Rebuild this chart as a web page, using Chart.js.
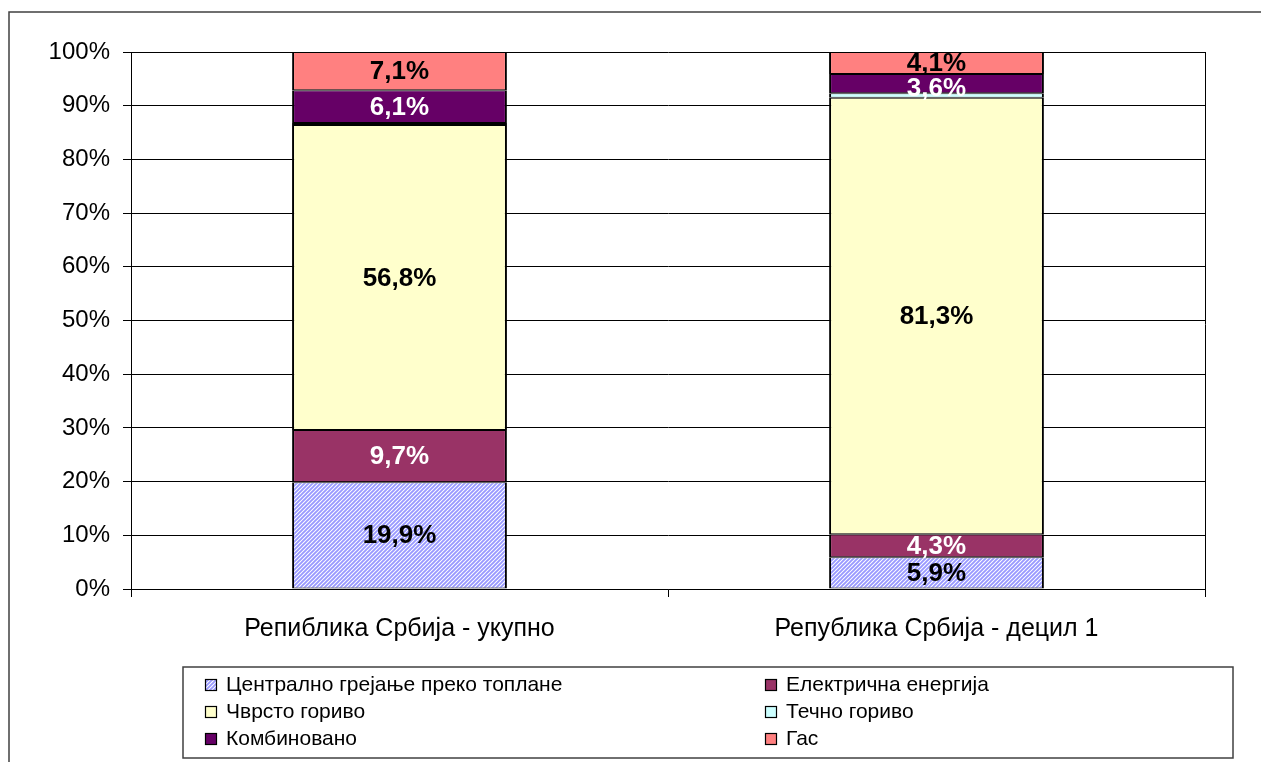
<!DOCTYPE html>
<html>
<head>
<meta charset="utf-8">
<script src="https://cdn.jsdelivr.net/npm/chart.js@4.4.1/dist/chart.umd.min.js"></script>
<style>
  html, body { margin: 0; padding: 0; background: #fff; }
  #wrap { width: 1261px; height: 762px; }
</style>
</head>
<body>
<div id="wrap"><canvas id="chart" width="1261" height="762"></canvas></div>
<script>
// categories on the x axis
const categories = ['Репиблика Србија - укупно', 'Република Србија - децил 1']

// series (percent of households by heating type)
const centralHeating = [19.9, 5.9]
const electricity = [9.7, 4.3]
const solidFuel = [56.8, 81.3]
const liquidFuel = [0.4, 0.8]
const combined = [6.1, 3.6]
const gas = [7.1, 4.1]

const seriesNames = [
  'Централно грејање преко топлане',
  'Електрична енергија',
  'Чврсто гориво',
  'Течно гориво',
  'Комбиновано',
  'Гас'
]

// y axis ticks
const yTicks = [0, 10, 20, 30, 40, 50, 60, 70, 80, 90, 100]

const FONT = 'Liberation Sans, Arial, sans-serif'

/**
 * Diagonal lavender/white hatch used for the central heating series.
 */
function makeHatch () {
  const c = document.createElement('canvas')
  c.width = 4
  c.height = 4
  const g = c.getContext('2d')
  g.fillStyle = '#ffffff'
  g.fillRect(0, 0, 4, 4)
  g.strokeStyle = '#9999ff'
  g.lineWidth = 1.9
  g.beginPath()
  g.moveTo(-1, 5); g.lineTo(5, -1)
  g.moveTo(-3, 3); g.lineTo(3, -3)
  g.moveTo(1, 7); g.lineTo(7, 1)
  g.stroke()
  return g.createPattern(c, 'repeat')
}
const hatch = makeHatch()

const seriesData = [centralHeating, electricity, solidFuel, liquidFuel, combined, gas]
const seriesColors = [hatch, '#993366', '#ffffcc', '#ccffff', '#660066', '#ff8080']
const labelColors = ['#000', '#fff', '#000', null, '#fff', '#000']

// ---------------------------------------------------------------------------

const framePlugin = {
  id: 'frame',
  beforeDraw (chart) {
    const ctx = chart.ctx
    ctx.save()
    ctx.fillStyle = '#fff'
    ctx.fillRect(0, 0, chart.width, chart.height)
    ctx.strokeStyle = '#404040'
    ctx.lineWidth = 1.5
    ctx.strokeRect(9, 12, chart.width + 20, chart.height + 20)
    ctx.restore()
  },
  afterDraw (chart) {
    // right edge of the plot area
    const a = chart.chartArea
    const ctx = chart.ctx
    ctx.save()
    ctx.strokeStyle = '#000'
    ctx.lineWidth = 1
    ctx.beginPath()
    ctx.moveTo(Math.round(a.right) + 0.5, a.top)
    ctx.lineTo(Math.round(a.right) + 0.5, a.bottom + 8)
    ctx.stroke()
    ctx.restore()
  }
}

const valueLabels = {
  id: 'valueLabels',
  afterDatasetsDraw (chart) {
    const ctx = chart.ctx
    ctx.save()
    ctx.font = 'bold 26px ' + FONT
    ctx.textAlign = 'center'
    ctx.textBaseline = 'middle'
    chart.data.datasets.forEach((ds, di) => {
      if (!labelColors[di]) return
      const meta = chart.getDatasetMeta(di)
      meta.data.forEach((bar, i) => {
        const v = ds.data[i]
        if (v < 1) return
        ctx.fillStyle = labelColors[di]
        const txt = v.toFixed(1).replace('.', ',') + '%'
        // thin segments: Excel pushes the label a bit down
        const shift = Math.abs(bar.base - bar.y) < 22 && di === 4 ? 5 : 1
        ctx.fillText(txt, bar.x, (bar.y + bar.base) / 2 + shift)
      })
    })
    ctx.restore()
  }
}

const boxLegend = {
  id: 'boxLegend',
  afterDraw (chart) {
    const ctx = chart.ctx
    ctx.save()
    ctx.strokeStyle = '#404040'
    ctx.lineWidth = 1.5
    ctx.strokeRect(183, 667, 1050, 91)
    ctx.font = '21px ' + FONT
    ctx.textBaseline = 'middle'
    ctx.textAlign = 'left'
    const colX = [205, 765]
    const rowY = [684, 711, 738]
    chart.data.datasets.forEach((ds, i) => {
      const x = colX[i % 2]
      const y = rowY[Math.floor(i / 2)]
      ctx.fillStyle = ds.backgroundColor
      ctx.fillRect(x, y - 5, 11, 11)
      ctx.strokeStyle = '#000'
      ctx.lineWidth = 1.2
      ctx.strokeRect(x + 0.5, y - 5 + 0.5, 11, 11)
      ctx.fillStyle = '#000'
      ctx.fillText(ds.label, x + 21, y + 1)
    })
    ctx.restore()
  }
}

new Chart(document.getElementById('chart'), {
  type: 'bar',
  data: {
    labels: categories,
    datasets: seriesData.map((d, i) => ({
      label: seriesNames[i],
      data: d,
      backgroundColor: seriesColors[i],
      borderColor: '#000',
      borderWidth: { top: 1, bottom: 1, left: 2, right: 2 },
      borderSkipped: false,
      barPercentage: 0.4,
      categoryPercentage: 1
    }))
  },
  options: {
    responsive: false,
    devicePixelRatio: 1,
    animation: false,
    layout: { padding: { left: 0, top: 52, right: 56, bottom: 113 } },
    plugins: {
      legend: { display: false },
      tooltip: { enabled: false }
    },
    scales: {
      x: {
        stacked: true,
        grid: { drawOnChartArea: false, drawTicks: true, tickLength: 8, color: '#000', offset: true },
        border: { color: '#000', width: 1 },
        ticks: { color: '#000', font: { family: FONT, size: 25 }, padding: 17 },
        afterFit: (scale) => { scale.height = 60 }
      },
      y: {
        stacked: true,
        min: 0,
        max: 100,
        afterBuildTicks: (scale) => { scale.ticks = yTicks.map(v => ({ value: v })) },
        grid: { color: '#000', tickLength: 8, lineWidth: 1 },
        border: { color: '#000', width: 1 },
        ticks: {
          color: '#000',
          font: { family: FONT, size: 24 },
          padding: 13,
          callback: (v) => v + '%'
        },
        afterFit: (scale) => { scale.width = 131 }
      }
    }
  },
  plugins: [framePlugin, valueLabels, boxLegend]
})
</script>
</body>
</html>
